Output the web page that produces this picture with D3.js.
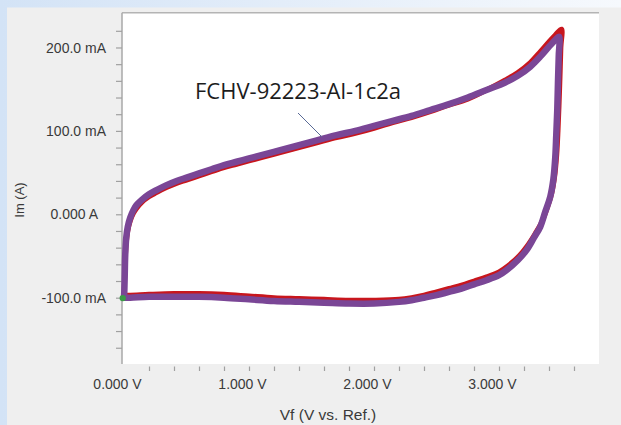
<!DOCTYPE html>
<html>
<head>
<meta charset="utf-8">
<script src="https://cdn.jsdelivr.net/npm/d3@7"></script>
<style>
  html, body { margin: 0; padding: 0; background: #fff; }
  svg { display: block; }
  text { font-family: "Liberation Sans", Arial, sans-serif; }
</style>
</head>
<body>
<svg id="chart" width="621" height="425"></svg>
<script>
// ---------- DATA ----------
// Cycle 1 (red) : forward scan 0 -> 3.5 V, then reverse scan back to 0 V
const cycle1Potential = [
  0.000, 0.003, 0.006, 0.010, 0.018, 0.030, 0.050, 0.075, 0.100, 0.140, 0.200, 0.260, 0.340, 0.420, 0.500,
  0.600, 0.700, 0.800, 0.900, 1.000, 1.100, 1.250, 1.400, 1.550, 1.700, 1.850, 2.000, 2.150, 2.300, 2.450,
  2.600, 2.750, 2.900, 3.050, 3.150, 3.250, 3.330, 3.400, 3.450, 3.500,
  3.495, 3.488, 3.480, 3.472, 3.462, 3.445, 3.420, 3.380, 3.340, 3.290, 3.230, 3.160, 3.070, 3.000,
  2.900, 2.800, 2.700, 2.600, 2.500, 2.400, 2.300, 2.200, 2.000, 1.800, 1.600, 1.400, 1.200, 1.000,
  0.800, 0.600, 0.400, 0.200, 0.050, 0.000
];
const cycle1Current = [ // mA
  -97, -88, -74, -54, -34, -20, -8, 1, 7, 14, 21, 26, 32, 37, 41,
  46, 51, 56, 60, 64, 68, 74, 80, 86, 92, 97, 103, 110, 116, 123,
  131, 138, 149, 161, 170, 182, 195, 207, 215, 222,
  200, 165, 130, 100, 72, 45, 24, 5, -10, -23, -37, -50, -62, -69,
  -75, -80, -85, -89, -93, -97, -100, -102, -103, -103, -102, -101, -100, -98,
  -96, -95, -95, -96, -97, -97
];
// Cycle 2 (purple)
const cycle2Potential = [
  0.000, 0.003, 0.006, 0.010, 0.018, 0.030, 0.050, 0.075, 0.100, 0.140, 0.200, 0.260, 0.340, 0.420, 0.500,
  0.600, 0.700, 0.800, 0.900, 1.000, 1.100, 1.250, 1.400, 1.550, 1.700, 1.850, 2.000, 2.150, 2.300, 2.450,
  2.600, 2.750, 2.900, 3.050, 3.150, 3.250, 3.330, 3.400, 3.450, 3.480,
  3.478, 3.472, 3.466, 3.458, 3.450, 3.435, 3.410, 3.370, 3.330, 3.280, 3.220, 3.150, 3.060, 3.000,
  2.900, 2.800, 2.700, 2.600, 2.500, 2.400, 2.300, 2.200, 2.000, 1.800, 1.600, 1.400, 1.200, 1.000,
  0.800, 0.600, 0.400, 0.200, 0.050, 0.000
];
const cycle2Current = [ // mA
  -100, -90, -72, -48, -28, -15, -4, 5, 11, 17, 24, 29, 35, 40, 44,
  49, 54, 59, 63, 67, 71, 77, 83, 89, 95, 100, 106, 112, 118, 125,
  132, 140, 149, 158, 166, 177, 189, 201, 209, 213,
  190, 160, 125, 95, 68, 42, 21, 3, -15, -28, -43, -55, -67, -73,
  -79, -84, -89, -93, -97, -100, -103, -105, -107, -107, -106, -105, -104, -102,
  -100, -99, -99, -99, -100, -100
];
const endPoint = [-0.01, -100.5]; // green marker (V, mA)

const xTickValues = [0.2, 0.4, 0.6, 0.8, 1.0, 1.2, 1.4, 1.6, 1.8, 2.0, 2.2, 2.4, 2.6, 2.8, 3.0, 3.2, 3.4, 3.6];
const xLabelValues = [0, 1, 2, 3];
const xLabels = ["0.000 V", "1.000 V", "2.000 V", "3.000 V"];
const yTickValues = [-160, -140, -120, -100, -80, -60, -40, -20, 0, 20, 40, 60, 80, 100, 120, 140, 160, 180, 200, 220];
const yLabelValues = [-100, 0, 100, 200];
const yLabels = ["-100.0 mA", "0.000 A", "100.0 mA", "200.0 mA"];
const xTitle = "Vf (V vs. Ref.)";
const yTitle = "Im (A)";
const annotation = "FCHV-92223-Al-1c2a";

// ---------- LAYOUT ----------
const svg = d3.select("#chart");
const W = 621, H = 425;
const plot = { left: 122, right: 599, top: 12.7, bottom: 364 };

const defs = svg.append("defs");
const grad = defs.append("linearGradient").attr("id", "bg").attr("x1", 0).attr("x2", 1).attr("y1", 0).attr("y2", 0);
grad.append("stop").attr("offset", "0%").attr("stop-color", "#d3e3f6");
grad.append("stop").attr("offset", "100%").attr("stop-color", "#f6f9fd");
svg.append("rect").attr("width", W).attr("height", H).attr("fill", "url(#bg)");
svg.append("rect").attr("x", 7).attr("y", 7.5).attr("width", W - 7).attr("height", H - 7.5).attr("fill", "#efefef");
svg.append("rect").attr("x", plot.left).attr("y", plot.top)
  .attr("width", plot.right - plot.left).attr("height", plot.bottom - plot.top).attr("fill", "#ffffff");

const x = d3.scaleLinear().domain([-0.016, 3.8]).range([plot.left, plot.right]);
const y = d3.scaleLinear().domain([-179.5, 241.7]).range([plot.bottom, plot.top]);

// top border
svg.append("line").attr("x1", plot.left).attr("x2", plot.right)
  .attr("y1", plot.top).attr("y2", plot.top).attr("stroke", "#b4b4b4").attr("stroke-width", 1.5);

// y axis
const yAxis = svg.append("g").attr("transform", `translate(${plot.left},0)`)
  .call(d3.axisLeft(y).tickValues(yTickValues).tickSize(6).tickSizeOuter(0).tickFormat(""));
yAxis.select(".domain").attr("stroke", "#a8a8a8").attr("stroke-width", 1.5)
  .attr("d", `M0,${plot.top}V${plot.bottom}`);
yAxis.selectAll(".tick line").attr("stroke", "#a0a0a0").attr("stroke-width", 1.2);

svg.append("g").selectAll("text").data(yLabelValues).join("text")
  .attr("x", (d, i) => yLabels[i].endsWith("mA") ? 106 : 98)
  .attr("y", d => y(d))
  .attr("dy", "0.36em")
  .attr("text-anchor", "end")
  .attr("font-size", 14)
  .attr("fill", "#3a3a3a")
  .text((d, i) => yLabels[i]);

// x axis ticks
const xAxis = svg.append("g").attr("transform", `translate(0,${plot.bottom + 2.5})`)
  .call(d3.axisBottom(x).tickValues(xTickValues).tickSize(4.5).tickSizeOuter(0).tickFormat(""));
xAxis.select(".domain").remove();
xAxis.selectAll(".tick line").attr("stroke", "#a0a0a0").attr("stroke-width", 1.2);

svg.append("g").selectAll("text").data(xLabelValues).join("text")
  .attr("x", d => x(d) - 6.5)
  .attr("y", 388.5)
  .attr("text-anchor", "middle")
  .attr("font-size", 14)
  .attr("fill", "#3a3a3a")
  .text((d, i) => xLabels[i]);

// axis titles
svg.append("text").attr("x", 328).attr("y", 420).attr("text-anchor", "middle")
  .attr("font-size", 15.5).attr("fill", "#3a3a3a").text(xTitle);
svg.append("text").attr("transform", "translate(24,200) rotate(-90)").attr("text-anchor", "middle")
  .attr("font-size", 13).attr("fill", "#3a3a3a").text(yTitle);

// ---------- CURVES ----------
const line = d3.line().x(d => x(d[0])).y(d => y(d[1])).curve(d3.curveCatmullRom.alpha(0.5));
const c1 = cycle1Potential.map((v, i) => [v, cycle1Current[i]]);
const c2 = cycle2Potential.map((v, i) => [v, cycle2Current[i]]);

svg.append("path").attr("d", line(c1)).attr("fill", "none")
  .attr("stroke", "#c8161d").attr("stroke-width", 5).attr("stroke-linejoin", "round").attr("stroke-linecap", "round");
svg.append("path").attr("d", line(c2)).attr("fill", "none")
  .attr("stroke", "#7a4696").attr("stroke-width", 6.5).attr("stroke-linejoin", "round").attr("stroke-linecap", "round");

svg.append("circle").attr("cx", x(endPoint[0])).attr("cy", y(endPoint[1])).attr("r", 3.2).attr("fill", "#3c9a48");

// ---------- ANNOTATION ----------
svg.append("line").attr("x1", 298).attr("y1", 113).attr("x2", 322).attr("y2", 137)
  .attr("stroke", "#5a6a96").attr("stroke-width", 1);
svg.append("text").attr("x", 195).attr("y", 98.5)
  .style("font-family", "'Open Sans', 'Noto Sans', sans-serif")
  .attr("font-size", 22).attr("fill", "#1c1c1c").text(annotation);
</script>
</body>
</html>
